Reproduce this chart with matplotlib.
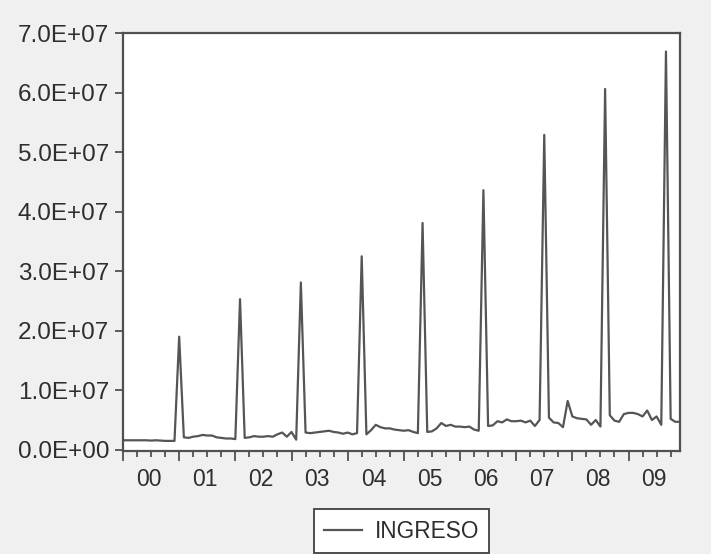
import matplotlib
matplotlib.use("Agg")
import matplotlib.pyplot as plt
from matplotlib.ticker import FixedLocator, NullFormatter

# Monthly INGRESO, 2000M01 - 2009M12 (values in millions)
ingreso_millions = [
    1.6, 1.6, 1.6, 1.6, 1.6, 1.6, 1.55, 1.6, 1.55, 1.5, 1.5, 1.5,
    19.0,
    2.1, 2.0, 2.2, 2.3, 2.5, 2.4, 2.4, 2.1, 2.0, 1.9, 1.9, 1.8,
    25.3,
    2.0, 2.1, 2.3, 2.2, 2.2, 2.3, 2.2, 2.6, 2.9, 2.2, 3.0, 1.7,
    28.1,
    2.9, 2.8, 2.9, 3.0, 3.1, 3.2, 3.0, 2.9, 2.7, 2.9, 2.6, 2.8,
    32.5,
    2.6, 3.3, 4.2, 3.8, 3.6, 3.6, 3.4, 3.3, 3.2, 3.3, 3.0, 2.8,
    38.1,
    3.0, 3.1, 3.6, 4.5, 4.0, 4.2, 3.9, 3.9, 3.8, 3.9, 3.4, 3.2,
    43.6,
    4.0, 4.1, 4.8, 4.6, 5.1, 4.8, 4.8, 4.9, 4.6, 4.9, 4.0, 5.0,
    52.9,
    5.4, 4.6, 4.5, 3.8, 8.2, 5.6, 5.3, 5.2, 5.1, 4.2, 5.0, 3.9,
    60.6,
    5.8, 4.9, 4.7, 6.0, 6.2, 6.2, 6.0, 5.6, 6.6, 5.0, 5.6, 4.2,
    66.9,
    5.2, 4.7, 4.7,
]
year_labels = ["00", "01", "02", "03", "04", "05", "06", "07", "08", "09"]
ytick_values = [0, 1e7, 2e7, 3e7, 4e7, 5e7, 6e7, 7e7]
ytick_labels = ["0.0E+00", "1.0E+07", "2.0E+07", "3.0E+07",
                "4.0E+07", "5.0E+07", "6.0E+07", "7.0E+07"]
series_name = "INGRESO"

plt.rcParams["font.family"] = ["Liberation Sans", "DejaVu Sans"]

W, H = 711, 554
fig = plt.figure(figsize=(W / 100, H / 100), dpi=100, facecolor="#f0f0f0")
ax = fig.add_axes([123 / W, 1 - 451 / H, (680 - 123) / W, (451 - 33) / H])
ax.set_facecolor("white")

months = list(range(len(ingreso_millions)))
values = [v * 1e6 for v in ingreso_millions]
line_color = "#555555"
text_color = "#2e2e2e"
ax.plot(months, values, color=line_color, lw=1.6, label=series_name)

ax.set_xlim(0, len(months) - 1)
ax.set_ylim(-2e5, 7e7)

for s in ax.spines.values():
    s.set_color("#505050")
    s.set_linewidth(1.6)

# y axis
ax.yaxis.set_major_locator(FixedLocator(ytick_values))
ax.set_yticklabels(ytick_labels)
ax.tick_params(axis="y", direction="out", length=6, width=1.3, color="#505050",
               labelsize=17.5, labelcolor=text_color, pad=4)

# x axis: year-start major ticks, quarterly minor ticks, labels mid-year
year_starts = [12 * i for i in range(len(year_labels))]
quarters = [3 * i for i in range(len(months) // 3) if (3 * i) % 12 != 0]
ax.xaxis.set_major_locator(FixedLocator(year_starts))
ax.xaxis.set_major_formatter(NullFormatter())
ax.xaxis.set_minor_locator(FixedLocator(quarters))
ax.tick_params(axis="x", which="major", direction="out", length=7.5, width=1.3,
               color="#505050")
ax.tick_params(axis="x", which="minor", direction="out", length=4.5, width=1.3,
               color="#505050")

sec = ax.secondary_xaxis("bottom")
sec.set_xticks([12 * i + 5.5 for i in range(len(year_labels))])
sec.set_xticklabels(year_labels)
sec.tick_params(axis="x", length=0, labelsize=16.5, labelcolor=text_color, pad=12)
sec.spines["bottom"].set_visible(False)

leg = fig.legend(loc="center", bbox_to_anchor=(401.5 / W, 1 - 531 / H),
                 frameon=True, fancybox=False, fontsize=16.3, handlelength=1.7,
                 handletextpad=0.55, borderpad=0.45, labelcolor=text_color)
frame = leg.get_frame()
frame.set_edgecolor("#404040")
frame.set_linewidth(1.3)
frame.set_facecolor("white")
frame.set_alpha(1)

fig.savefig("out.png", dpi=100, facecolor=fig.get_facecolor())
